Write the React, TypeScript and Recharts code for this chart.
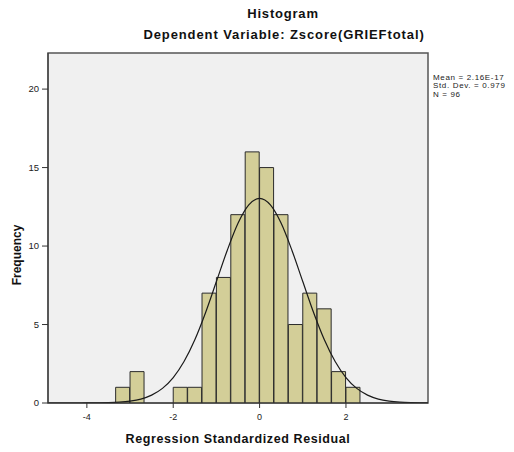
import React from "react";
import {
  ComposedChart,
  Bar,
  Line,
  XAxis,
  YAxis,
  CartesianGrid,
  ReferenceArea,
  Customized,
} from "recharts";

// histogram bins (width 1/3), counts
const binStarts: number[] = [
  -3.3333, -3.0, -2.6667, -2.3333, -2.0, -1.6667, -1.3333, -1.0, -0.6667,
  -0.3333, 0, 0.3333, 0.6667, 1.0, 1.3333, 1.6667, 2.0,
];
const binCounts: number[] = [1, 2, 0, 0, 1, 1, 7, 8, 12, 16, 15, 12, 5, 7, 6, 2, 1];
const binWidth = 1 / 3;

// normal curve
const curveX: number[] = [
  -4.9, -4.5, -4.25, -4, -3.75, -3.5, -3.25, -3, -2.75, -2.5, -2.25, -2, -1.75,
  -1.5, -1.25, -1, -0.75, -0.5, -0.25, 0, 0.25, 0.5, 0.75, 1, 1.25, 1.5, 1.75,
  2, 2.25, 2.5, 2.75, 3, 3.25, 3.5, 3.75, 3.9,
];
const curveY: number[] = [
  0, 0, 0, 0.003, 0.009, 0.022, 0.053, 0.12, 0.25, 0.5, 0.93, 1.62, 2.64, 4.03,
  5.77, 7.74, 9.72, 11.45, 12.62, 13.04, 12.62, 11.45, 9.72, 7.74, 5.77, 4.03,
  2.64, 1.62, 0.93, 0.5, 0.25, 0.12, 0.053, 0.022, 0.009, 0.004,
];

const xTicks: number[] = [-4, -2, 0, 2];
const yTicks: number[] = [0, 5, 10, 15, 20];
const statLines: string[] = ["Mean = 2.16E-17", "Std. Dev. = 0.979", "N = 96"];

const font = "'Liberation Sans', Arial, sans-serif";

const bins = binStarts
  .map((s, i) => ({ mid: s + binWidth / 2, count: binCounts[i] }))
  .filter((b) => b.count > 0);

const curve = curveX.map((x, i) => ({ x, y: curveY[i] }));

const Titles = () => (
  <g fontFamily={font}>
    <text x={283} y={18} textAnchor="middle" fontSize={13} fontWeight="bold" letterSpacing={0.8} fill="#111">
      Histogram
    </text>
    <text x={284} y={38.5} textAnchor="middle" fontSize={13} fontWeight="bold" letterSpacing={0.9} fill="#111">
      Dependent Variable: Zscore(GRIEFtotal)
    </text>
    {statLines.map((s, i) => (
      <text key={s} x={433} y={80 + i * 8.4} fontSize={8} letterSpacing={0.65} fill="#222">
        {s}
      </text>
    ))}
  </g>
);

const App = () => {
  return (
    <div style={{ position: "absolute", left: 0, top: 0 }}>
      <ComposedChart
        width={514}
        height={452}
        data={bins}
        margin={{ top: 53, right: 86, left: 8, bottom: 0 }}
        barCategoryGap={0}
        barGap={0}
        style={{ fontFamily: font }}
      >
        <CartesianGrid xAxisId="bins" yAxisId="freq" fill="#f0f0f0" horizontal={false} vertical={false} />
        <XAxis
          xAxisId="bins"
          dataKey="mid"
          type="number"
          domain={[-4.9, 3.9]}
          ticks={xTicks}
          allowDataOverflow
          height={49}
          tickSize={5}
          tickMargin={5.5}
          tick={{ fontSize: 9, fill: "#222" }}
          stroke="#333"
          label={{
            value: "Regression Standardized Residual",
            position: "insideBottom",
            offset: 9,
            fontSize: 12.5,
            fontWeight: "bold",
            fill: "#111",
            style: { letterSpacing: 0.6 },
          }}
        />
        <XAxis xAxisId="curve" dataKey="x" type="number" domain={[-4.9, 3.9]} allowDataOverflow hide />
        <YAxis
          yAxisId="freq"
          type="number"
          domain={[0, 22.3]}
          ticks={yTicks}
          allowDataOverflow
          width={40}
          tickSize={6}
          tickMargin={3}
          tick={{ fontSize: 9.5, fill: "#222" }}
          stroke="#333"
          label={{
            value: "Frequency",
            angle: -90,
            position: "insideLeft",
            offset: 9,
            dy: 27,
            fontSize: 12,
            fontWeight: "bold",
            fill: "#111",
            style: { textAnchor: "middle" },
          }}
        />
        <ReferenceArea
          xAxisId="bins"
          yAxisId="freq"
          x1={-4.9}
          x2={3.9}
          y1={0}
          y2={22.3}
          fill="none"
          fillOpacity={0}
          stroke="#555"
          strokeWidth={1.5}
          ifOverflow="visible"
        />
        <Bar
          xAxisId="bins"
          yAxisId="freq"
          dataKey="count"
          fill="#d3ce98"
          stroke="#2b2b2b"
          strokeWidth={1}
          isAnimationActive={false}
        />
        <Line
          xAxisId="curve"
          yAxisId="freq"
          data={curve}
          dataKey="y"
          type="monotone"
          stroke="#1a1a1a"
          strokeWidth={1.2}
          dot={false}
          activeDot={false}
          isAnimationActive={false}
        />
        <Customized component={Titles} />
      </ComposedChart>
    </div>
  );
};

export default App;
